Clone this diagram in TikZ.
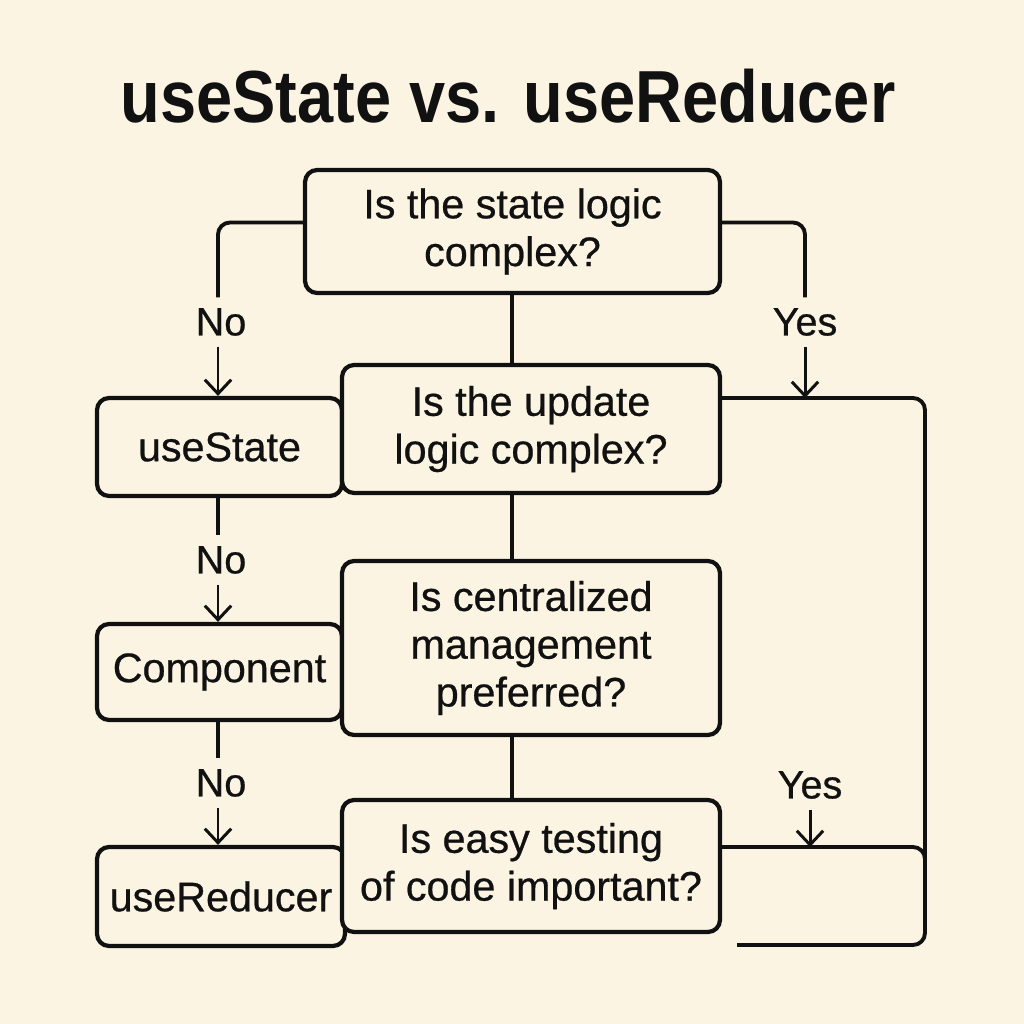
\documentclass[tikz,border=0pt]{standalone}
\usepackage{fontspec}
\setmainfont{Liberation Sans}[FakeBold=0.6]
\newfontfamily\titlefont[FakeStretch=0.88]{Liberation Sans}
\usepackage{tikz}
\usetikzlibrary{arrows.meta}
\definecolor{bgcream}{RGB}{251,244,226}
\definecolor{ink}{RGB}{17,17,17}
\tikzstyle{boxes} = [rectangle, rounded corners=0.24cm, draw=ink, line width=2.4pt, fill=bgcream,
text=ink, align=center, font=\fontsize{23.5}{27.2}\selectfont, inner sep=0pt]
\tikzstyle{lbl} = [text=ink, font=\fontsize{22.5}{25}\selectfont, inner sep=6pt]
\tikzstyle{wire} = [draw=ink, line width=2.2pt, rounded corners=0.24cm]
\tikzstyle{arrow} = [draw=ink, line width=1.7pt, -{Straight Barb[length=8pt,width=15pt]}]

\begin{document}
\begin{tikzpicture}[x=0.02cm, y=-0.02cm]
        \fill[bgcream] (0,0) rectangle (1024,1024);
        \useasboundingbox (0,0) rectangle (1024,1024);

        \draw (508,123) node[anchor=base, text=ink, font=\titlefont\bfseries\fontsize{42}{48}\selectfont] (title) {useState vs. useReducer};

        % questions
        \draw (512.5,231.5) node[boxes, minimum width=8.3cm, minimum height=2.46cm] (q1) {Is the state logic\\complex?};
        \draw (219.5,447) node[boxes, minimum width=4.9cm, minimum height=1.96cm] (usestate) {useState};
        \draw (219.5,672) node[boxes, minimum width=4.9cm, minimum height=1.92cm] (component) {Component};
        \draw (221,896.5) node[boxes, minimum width=4.96cm, minimum height=1.98cm] (usereducer) {useReducer};
        \draw (531,429) node[boxes, minimum width=7.56cm, minimum height=2.56cm] (q2) {Is the update\\logic complex?};
        \draw (531,648) node[boxes, minimum width=7.56cm, minimum height=3.48cm] (q3) {Is centralized\\management\\preferred?};
        \draw (531,866) node[boxes, minimum width=7.56cm, minimum height=2.64cm] (q4) {Is easy testing\\of code important?};

        % labels
        \draw (221,322) node[lbl] (no1) {No};
        \draw (221,560) node[lbl] (no2) {No};
        \draw (221,783) node[lbl] (no3) {No};
        \draw (805,322) node[lbl] (yes1) {Yes};
        \draw (810,785) node[lbl] (yes2) {Yes};

        \coordinate (railtop) at (925,398);
        \coordinate (railmid) at (925,847);
        \coordinate (railjoin) at (925,900);
        \coordinate (railbot) at (925,945);
        \coordinate (loopend) at (737,945);

        % left side
        \draw[wire] ([yshift=0.18cm]q1.west) -| (218,0 |- no1.north);
        \draw[arrow] (218,0 |- no1.south) -- (218,0 |- usestate.north);
        \draw[wire] (218,0 |- usestate.south) -- (218,0 |- no2.north);
        \draw[arrow] (218,0 |- no2.south) -- (218,0 |- component.north);
        \draw[wire] (218,0 |- component.south) -- (218,0 |- no3.north);
        \draw[arrow] (218,0 |- no3.south) -- (218,0 |- usereducer.north);

        % middle
        \draw[wire] (512,0 |- q1.south) -- (512,0 |- q2.north);
        \draw[wire] (512,0 |- q2.south) -- (512,0 |- q3.north);
        \draw[wire] (512,0 |- q3.south) -- (512,0 |- q4.north);

        % right side
        \draw[wire] ([yshift=0.18cm]q1.east) -| (805,0 |- yes1.north);
        \draw[arrow] (yes1.south) -- (yes1.south |- railtop);
        \draw[wire] (q2.east |- railtop) -- (railtop) -- (railbot) -- (loopend);
        \draw[wire] (q4.east |- railmid) -| (railjoin);
        \draw[arrow] (yes2.south) -- (yes2.south |- railmid);
    \end{tikzpicture}
\end{document}
